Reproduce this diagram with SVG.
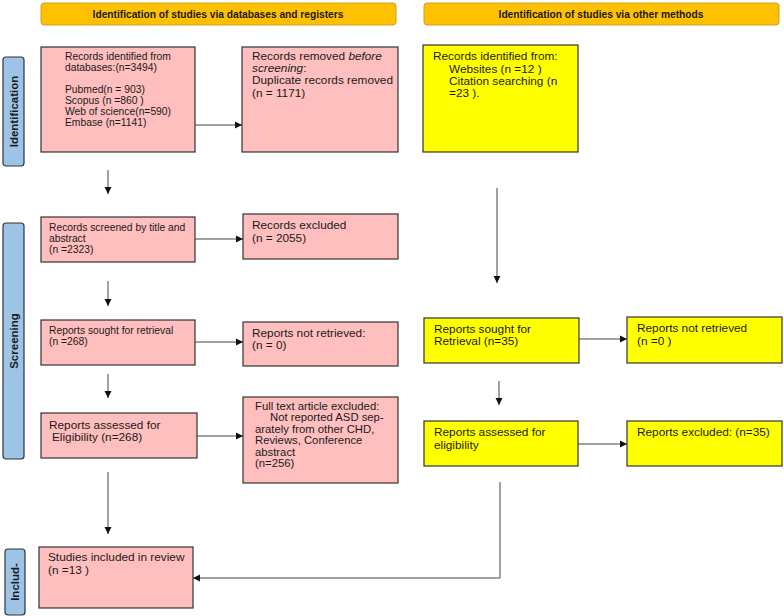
<svg xmlns="http://www.w3.org/2000/svg" width="784" height="616" viewBox="0 0 784 616">
<style>
text{font-family:"Liberation Sans",Arial,sans-serif;fill:#1a1a1a}
.hdr{fill:#FFC000;stroke:#C9A227;stroke-width:1}
.hdrt{font-size:10.2px;font-weight:bold;text-anchor:middle}
.side{fill:#9DC3E6;stroke:#333;stroke-width:1.2}
.sidet{font-size:11.5px;font-weight:bold;text-anchor:middle}
.pink{fill:#FFBFBF;stroke:#333;stroke-width:1.2}
.yel{fill:#FFFF00;stroke:#333;stroke-width:1.2}
.s10{font-size:10.3px}
.s12{font-size:11.8px}
.s11{font-size:11.3px}
.con{stroke:#444;stroke-width:1;fill:none}
</style>
<defs>
<marker id="ah" markerWidth="8" markerHeight="8" refX="7" refY="4" orient="auto" markerUnits="userSpaceOnUse">
<path d="M0,0.5 L7,4 L0,7.5 Z" fill="#111"/>
</marker>
</defs>
<rect width="784" height="616" fill="#fff"/>

<g id="header-left"><rect class="hdr" x="41" y="3" width="355" height="22" rx="3"/><text class="hdrt" x="218" y="18">Identification of studies via databases and registers</text></g>
<g id="header-right"><rect class="hdr" x="424" y="3" width="355" height="22" rx="3"/><text class="hdrt" x="601" y="18">Identification of studies via other methods</text></g>

<g id="side-identification"><rect class="side" x="3" y="57" width="21" height="109" rx="3"/><text class="sidet" transform="translate(17.5,111.5) rotate(-90)">Identification</text></g>
<g id="side-screening"><rect class="side" x="3" y="223" width="21" height="236" rx="3"/><text class="sidet" transform="translate(17.5,341) rotate(-90)">Screening</text></g>
<g id="side-included"><rect class="side" x="5" y="549" width="20" height="66" rx="3"/><text class="sidet" transform="translate(19,582) rotate(-90)">Includ-</text></g>

<g id="db-records"><rect class="pink" x="41" y="47" width="154" height="105"/>
<text class="s10"><tspan x="65" y="60">Records identified from</tspan><tspan x="65" y="71">databases:(n=3494)</tspan><tspan x="65" y="93">Pubmed(n = 903)</tspan><tspan x="65" y="104">Scopus (n =860 )</tspan><tspan x="65" y="115">Web of science(n=590)</tspan><tspan x="65" y="126">Embase (n=1141)</tspan></text></g>

<g id="removed"><rect class="pink" x="242" y="47" width="156" height="105"/>
<text class="s12"><tspan x="252" y="60">Records removed <tspan font-style="italic">before</tspan></tspan><tspan x="252" y="72" font-style="italic">screening</tspan><tspan>:</tspan><tspan x="252" y="84">Duplicate records removed</tspan><tspan x="252" y="97">(n = 1171)</tspan></text></g>

<g id="other-records"><rect class="yel" x="423" y="45" width="155" height="107"/>
<text class="s12"><tspan x="433" y="60">Records identified from:</tspan><tspan x="449" y="73">Websites (n =12 )</tspan><tspan x="449" y="85">Citation searching (n</tspan><tspan x="449" y="97">=23 ).</tspan></text></g>

<g id="screened"><rect class="pink" x="41" y="217" width="154" height="45"/>
<text class="s10"><tspan x="49" y="231">Records screened by title and</tspan><tspan x="49" y="242">abstract</tspan><tspan x="49" y="253">(n =2323)</tspan></text></g>

<g id="excluded"><rect class="pink" x="243" y="214" width="155" height="45"/>
<text class="s12"><tspan x="252" y="229">Records excluded</tspan><tspan x="252" y="242">(n = 2055)</tspan></text></g>

<g id="sought"><rect class="pink" x="41" y="320" width="154" height="45"/>
<text class="s10"><tspan x="49" y="334">Reports sought for retrieval</tspan><tspan x="49" y="345">(n =268)</tspan></text></g>

<g id="not-retrieved"><rect class="pink" x="243" y="322" width="155" height="44"/>
<text class="s12"><tspan x="252" y="337">Reports not retrieved:</tspan><tspan x="252" y="349">(n = 0)</tspan></text></g>

<g id="assessed"><rect class="pink" x="41" y="413" width="156" height="45"/>
<text class="s12"><tspan x="49" y="429">Reports assessed for</tspan><tspan x="52" y="441">Eligibility (n=268)</tspan></text></g>

<g id="fulltext-excluded"><rect class="pink" x="243" y="397" width="155" height="86"/>
<text class="s11"><tspan x="255" y="410">Full text article excluded:</tspan><tspan x="270" y="421.4">Not reported ASD sep-</tspan><tspan x="255" y="432.8">arately from other CHD,</tspan><tspan x="255" y="444.2">Reviews, Conference</tspan><tspan x="255" y="455.6">abstract</tspan><tspan x="255" y="467">(n=256)</tspan></text></g>

<g id="other-sought"><rect class="yel" x="424" y="318" width="155" height="45"/>
<text class="s12"><tspan x="434" y="333">Reports sought for</tspan><tspan x="434" y="345">Retrieval (n=35)</tspan></text></g>

<g id="other-not-retrieved"><rect class="yel" x="627" y="317" width="155" height="46"/>
<text class="s12"><tspan x="637" y="332">Reports not retrieved</tspan><tspan x="637" y="345">(n =0 )</tspan></text></g>

<g id="other-assessed"><rect class="yel" x="424" y="421" width="154" height="45"/>
<text class="s12"><tspan x="434" y="436">Reports assessed for</tspan><tspan x="434" y="449">eligibility</tspan></text></g>

<g id="other-excluded"><rect class="yel" x="627" y="421" width="155" height="45"/>
<text class="s12"><tspan x="637" y="436">Reports excluded: (n=35)</tspan></text></g>

<g id="included"><rect class="pink" x="39" y="547" width="154" height="61"/>
<text class="s12"><tspan x="48" y="561">Studies included in review</tspan><tspan x="48" y="574">(n =13 )</tspan></text></g>

<g id="connectors">
<line class="con" x1="195" y1="125" x2="242" y2="125" marker-end="url(#ah)"/>
<line class="con" x1="108" y1="170" x2="108" y2="194" marker-end="url(#ah)"/>
<line class="con" x1="195" y1="239" x2="243" y2="239" marker-end="url(#ah)"/>
<line class="con" x1="108" y1="281" x2="108" y2="306" marker-end="url(#ah)"/>
<line class="con" x1="195" y1="342" x2="243" y2="342" marker-end="url(#ah)"/>
<line class="con" x1="108" y1="374" x2="108" y2="398" marker-end="url(#ah)"/>
<line class="con" x1="197" y1="436" x2="243" y2="436" marker-end="url(#ah)"/>
<line class="con" x1="108" y1="472" x2="108" y2="534" marker-end="url(#ah)"/>
<line class="con" x1="497" y1="188" x2="497" y2="283" marker-end="url(#ah)"/>
<line class="con" x1="579" y1="339" x2="627" y2="339" marker-end="url(#ah)"/>
<line class="con" x1="499" y1="381" x2="499" y2="405" marker-end="url(#ah)"/>
<line class="con" x1="578" y1="444" x2="627" y2="444" marker-end="url(#ah)"/>
<polyline class="con" points="500,482 500,578 193,578" marker-end="url(#ah)"/>
</g>
</svg>
